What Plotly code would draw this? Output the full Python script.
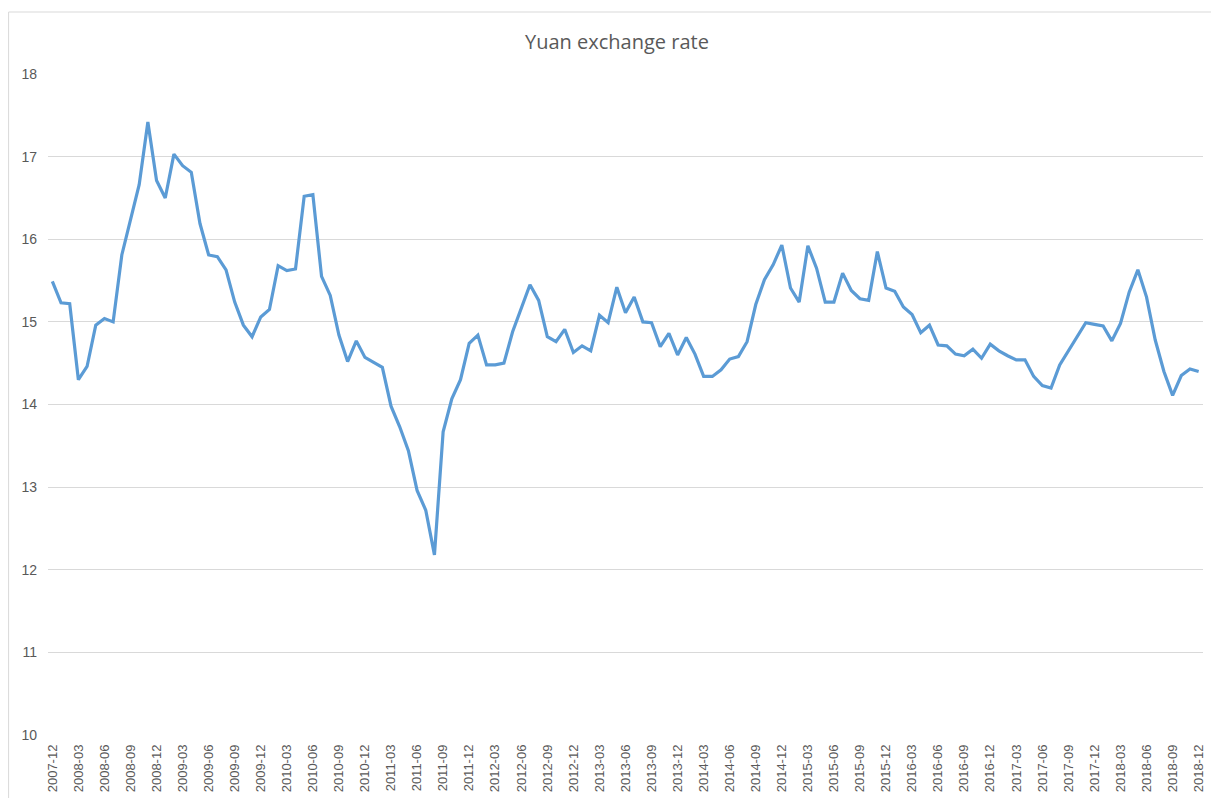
import plotly.graph_objects as go
import pandas as pd

months = [d.strftime("%Y-%m") for d in pd.date_range("2007-12-01", "2018-12-01", freq="MS")]

rate = [
    15.49, 15.23, 15.22, 14.30, 14.46, 14.96, 15.04, 15.00, 15.81, 16.23,
    16.66, 17.42, 16.71, 16.50, 17.03, 16.89, 16.81, 16.19, 15.81, 15.79,
    15.63, 15.24, 14.96, 14.82, 15.06, 15.15, 15.68, 15.62, 15.64, 16.52,
    16.54, 15.55, 15.32, 14.84, 14.52, 14.77, 14.57, 14.51, 14.45, 13.98,
    13.73, 13.44, 12.96, 12.72, 12.18, 13.67, 14.07, 14.30, 14.74, 14.84,
    14.48, 14.48, 14.50, 14.88, 15.16, 15.45, 15.26, 14.82, 14.76, 14.91,
    14.63, 14.71, 14.65, 15.08, 14.99, 15.42, 15.11, 15.30, 15.00, 14.99,
    14.70, 14.86, 14.60, 14.81, 14.61, 14.34, 14.34, 14.42, 14.55, 14.58,
    14.76, 15.21, 15.51, 15.69, 15.93, 15.41, 15.24, 15.92, 15.65, 15.24,
    15.24, 15.59, 15.38, 15.28, 15.26, 15.85, 15.41, 15.37, 15.18, 15.09,
    14.87, 14.96, 14.72, 14.71, 14.61, 14.59, 14.67, 14.56, 14.73, 14.65,
    14.59, 14.54, 14.54, 14.34, 14.23, 14.20, 14.48, 14.65, 14.83, 14.99,
    14.97, 14.95, 14.77, 14.98, 15.36, 15.63, 15.30, 14.78, 14.40, 14.11,
    14.35, 14.43, 14.40,
]

tick_labels = months[::3]
y_ticks = [10, 11, 12, 13, 14, 15, 16, 17, 18]

W, H = 1211, 798
L, R, T, B = 48, 5, 74, 63
pw, ph = W - L - R, H - T - B

fig = go.Figure()
fig.add_trace(go.Scatter(
    x=months, y=rate, mode="lines",
    line=dict(color="#5b9bd5", width=3.2),
    hoverinfo="x+y", showlegend=False,
))

fig.update_layout(
    width=W, height=H,
    margin=dict(l=L, r=R, t=T, b=B),
    paper_bgcolor="white", plot_bgcolor="white",
    title=dict(text="Yuan exchange rate", x=617 / W, xanchor="center",
               y=1 - 42 / H, yref="container", yanchor="middle",
               font=dict(family="Open Sans", size=20, color="#595959")),
    xaxis=dict(type="category", categoryorder="array", categoryarray=months,
               range=[-0.5, len(months) - 0.5],
               tickmode="array", tickvals=tick_labels, ticktext=tick_labels,
               tickangle=-90, showgrid=False, showline=False, zeroline=False,
               ticks="", ticklabelstandoff=6,
               tickfont=dict(family="Liberation Sans", size=13, color="#595959")),
    yaxis=dict(range=[10, 18], tickvals=y_ticks, showgrid=True,
               gridcolor="#d9d9d9", gridwidth=1, zeroline=False, showline=False,
               ticks="", ticklabelstandoff=10,
               tickfont=dict(family="Liberation Sans", size=14, color="#595959")),
    shapes=[dict(type="rect", xref="paper", yref="paper",
                 x0=(8.5 - L) / pw, x1=1.05, y0=-0.2, y1=(T + ph - 12) / ph,
                 line=dict(color="#d9d9d9", width=1), fillcolor="rgba(0,0,0,0)",
                 layer="below")],
)

fig.write_html(
    "out.html",
    config={"displayModeBar": False},
    post_script="document.body.style.margin='0';document.body.style.overflow='hidden';",
)
